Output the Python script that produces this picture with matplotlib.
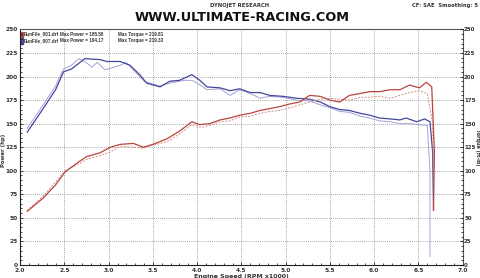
import matplotlib
matplotlib.use("Agg")
import matplotlib.pyplot as plt
from matplotlib.ticker import MultipleLocator
from matplotlib.patches import Rectangle

# run 007 (solid) torque
tq7_rpm = [2.08, 2.26, 2.40, 2.49, 2.58, 2.73, 2.90, 2.98, 3.13, 3.24, 3.35, 3.43, 3.58, 3.69,
           3.80, 3.94, 4.03, 4.11, 4.26, 4.37, 4.48, 4.60, 4.71, 4.82, 4.97, 5.12, 5.27, 5.39,
           5.50, 5.61, 5.72, 5.84, 5.95, 6.06, 6.18, 6.29, 6.36, 6.48, 6.57, 6.63, 6.66, 6.67]
tq7 = [141, 166, 186, 205, 208, 219, 218, 216, 216, 212, 202, 193, 189, 195,
       196, 202, 196, 189, 188, 185, 187, 183, 183, 180, 179, 177, 176, 173,
       168, 165, 164, 161, 159, 156, 155, 154, 156, 152, 155, 152, 120, 58]

# run 001 (thin) torque
tq1_rpm = [2.08, 2.26, 2.40, 2.49, 2.58, 2.66, 2.73, 2.81, 2.87, 2.96, 3.13, 3.20, 3.30, 3.40,
           3.58, 3.69, 3.85, 3.94, 4.05, 4.11, 4.26, 4.37, 4.48, 4.60, 4.71, 4.82, 4.97, 5.12,
           5.27, 5.39, 5.50, 5.61, 5.72, 5.84, 5.95, 6.06, 6.18, 6.29, 6.40, 6.50, 6.60, 6.63, 6.63]
tq1 = [145, 170, 190, 208, 212, 219, 216, 210, 215, 207, 212, 215, 205, 195,
       190, 193, 196, 196, 190, 186, 187, 180, 186, 182, 177, 179, 178, 175,
       174, 170, 167, 163, 162, 158, 156, 153, 152, 150, 150, 149, 148, 100, 9]

# run 007 (solid) power
hp7_rpm = [2.08, 2.26, 2.40, 2.51, 2.64, 2.75, 2.90, 3.02, 3.13, 3.28, 3.39, 3.50, 3.66, 3.80,
           3.94, 4.03, 4.14, 4.26, 4.37, 4.48, 4.60, 4.71, 4.82, 4.93, 5.05, 5.16, 5.27, 5.39,
           5.50, 5.61, 5.72, 5.84, 5.95, 6.06, 6.18, 6.29, 6.40, 6.51, 6.59, 6.65, 6.68, 6.67]
hp7 = [57, 71, 85, 99, 108, 115, 119, 125, 128, 129, 125, 128, 134, 142,
       152, 149, 150, 154, 156, 159, 161, 164, 166, 168, 171, 173, 180, 179,
       175, 173, 180, 182, 184, 184, 186, 186, 191, 188, 194, 189, 120, 58]

# run 001 (dashed) power
hp1_rpm = [2.08, 2.26, 2.40, 2.51, 2.64, 2.75, 2.90, 3.02, 3.13, 3.28, 3.39, 3.50, 3.66, 3.80,
           3.94, 4.05, 4.14, 4.26, 4.37, 4.48, 4.60, 4.71, 4.82, 4.93, 5.05, 5.16, 5.27, 5.39,
           5.50, 5.61, 5.72, 5.84, 5.95, 6.06, 6.18, 6.29, 6.40, 6.51, 6.60, 6.66, 6.67]
hp1 = [58, 73, 88, 100, 106, 112, 116, 120, 126, 125, 124, 127, 131, 139,
       149, 146, 148, 152, 153, 157, 158, 161, 163, 164, 167, 170, 173, 176,
       177, 176, 175, 178, 178, 179, 177, 180, 183, 185, 182, 150, 90]

runs = ["RunFile_001.drf", "RunFile_007.drf"]
max_power = ["185.50", "194.17"]
max_torque = ["219.81", "219.33"]

fig = plt.figure(figsize=(4.8, 2.78), dpi=100)
ax = fig.add_axes([0.042, 0.047, 0.922, 0.847])

ax.plot(tq1_rpm, tq1, color="#a3a3d6", lw=0.7)
ax.plot(tq7_rpm, tq7, color="#45479c", lw=0.9)
ax.plot(hp1_rpm, hp1, color="#d58a84", lw=0.7, ls=(0, (2, 1.5)))
ax.plot(hp7_rpm, hp7, color="#b8453e", lw=0.9)

ax.set_xlim(2.0, 7.0)
ax.set_ylim(0, 250)
ax.xaxis.set_major_locator(MultipleLocator(0.5))
ax.xaxis.set_minor_locator(MultipleLocator(0.1))
ax.yaxis.set_major_locator(MultipleLocator(25))
ax.yaxis.set_minor_locator(MultipleLocator(5))
ax.grid(True, which="major", color="#888888", ls=(0, (1, 1.5)), lw=0.6)
ax.tick_params(which="both", direction="in", labelsize=4.2, labelcolor="#333333",
               length=2, width=0.5, pad=2)
ax.tick_params(which="minor", length=1.2)
ax.set_xticklabels(["%.1f" % v for v in ax.get_xticks()], fontweight="bold")
ax.set_yticklabels(["%d" % v for v in ax.get_yticks()], fontweight="bold")
for s in ax.spines.values():
    s.set_color("#555555")
    s.set_linewidth(0.8)
ax.spines["left"].set_color("#222222")
ax.spines["bottom"].set_color("#222222")

# right axis with the same scale for torque
ax2 = ax.twinx()
ax2.set_ylim(0, 250)
ax2.yaxis.set_major_locator(MultipleLocator(25))
ax2.yaxis.set_minor_locator(MultipleLocator(5))
ax2.tick_params(which="both", direction="in", labelsize=4.0, labelcolor="#333333",
                length=2, width=0.5, pad=1)
ax2.tick_params(which="minor", length=1.2)
ax2.set_yticklabels(["%d" % v for v in ax2.get_yticks()], fontweight="bold")
for s in ax2.spines.values():
    s.set_visible(False)

ax.set_xlabel("Engine Speed (RPM x1000)", fontsize=4.5, fontweight="bold",
              color="#333333", labelpad=1)
fig.text(0.008, 0.46, "Power (hp)", rotation=90, ha="center", va="center",
         fontsize=3.8, fontweight="bold", color="#333333")
fig.text(0.995, 0.47, "Torque (ft-lb)", rotation=270, ha="center", va="center",
         fontsize=3.5, fontweight="bold", color="#333333")

# legend block in the upper left
sq_colors = ["#b8453e", "#45479c"]
cols = [0.008, 0.09, 0.221]
for i in range(2):
    y = 0.99 - i * 0.028
    ax.add_patch(Rectangle((0.001, y - 0.022), 0.005, 0.022, transform=ax.transAxes,
                           color=sq_colors[i], clip_on=False))
    texts = [runs[i], "Max Power = " + max_power[i], "Max Torque = " + max_torque[i]]
    for x, t in zip(cols, texts):
        ax.text(x, y, t, transform=ax.transAxes, fontsize=3.3, va="top",
                family="Liberation Sans", fontweight="bold", color="#333333")

fig.text(0.5, 0.982, "DYNOJET RESEARCH", ha="center", va="center", fontsize=3.8,
         fontweight="bold", color="#333333")
fig.text(0.995, 0.982, "CF: SAE  Smoothing: 5", ha="right", va="center", fontsize=3.8,
         fontweight="bold", color="#333333")
fig.text(0.504, 0.938, "WWW.ULTIMATE-RACING.COM", ha="center", va="center",
         fontsize=9.3, fontweight="bold", color="#111111")

fig.savefig("out.png", dpi=100)
